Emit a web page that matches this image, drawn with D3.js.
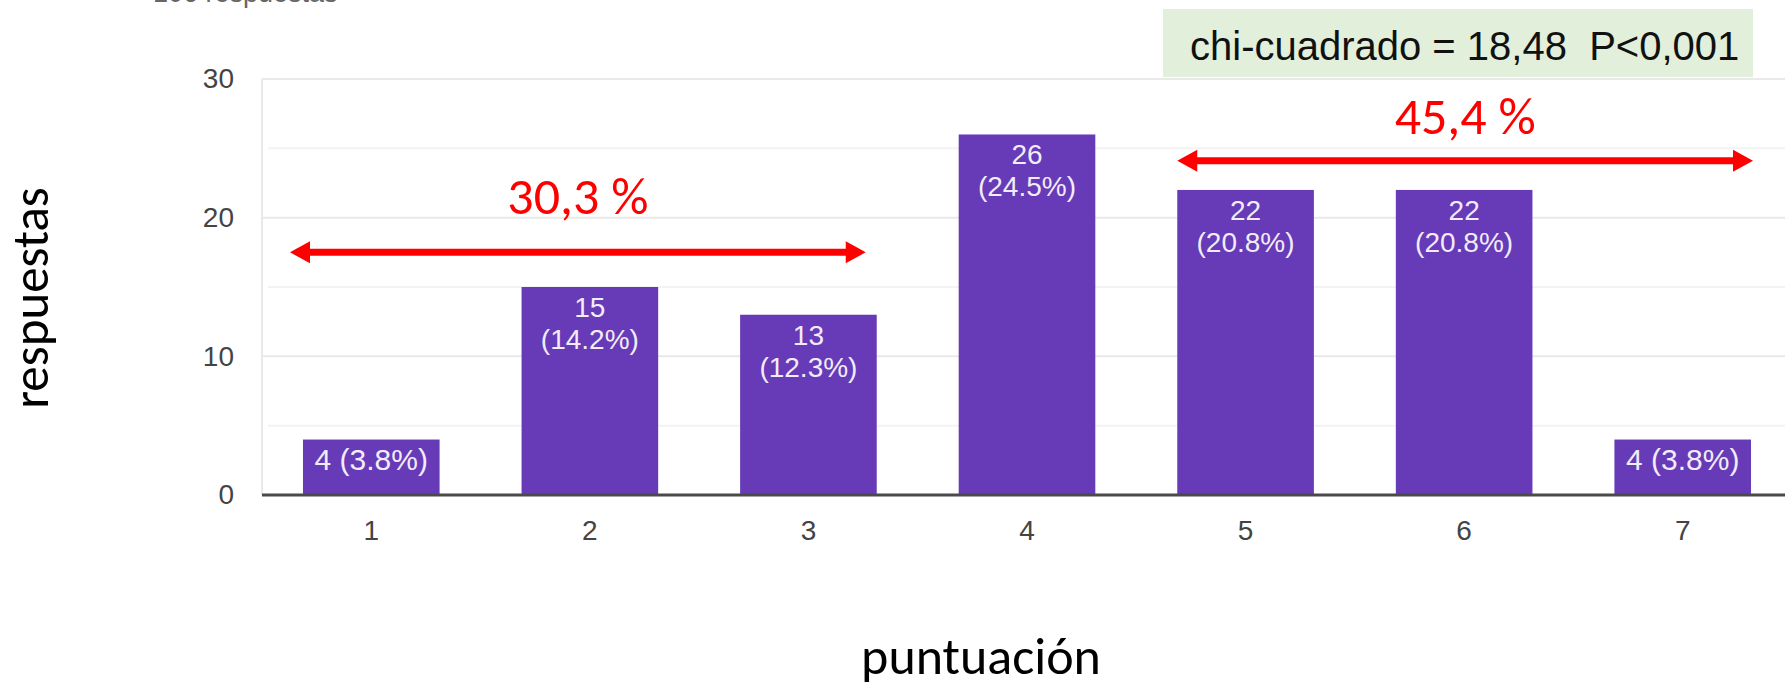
<!DOCTYPE html>
<html>
<head>
<meta charset="utf-8">
<script src="https://cdn.jsdelivr.net/npm/d3@7"></script>
<style>
  html, body { margin: 0; padding: 0; background: #fff; }
  svg { display: block; }
  text { white-space: pre; }
</style>
</head>
<body>
<svg id="chart" width="1785" height="689"></svg>
<script>
// ---- data ----
const categories = ["1", "2", "3", "4", "5", "6", "7"];
const counts = [4, 15, 13, 26, 22, 22, 4];
const percents = ["3.8%", "14.2%", "12.3%", "24.5%", "20.8%", "20.8%", "3.8%"];
const yTicks = [0, 10, 20, 30];
const yMinorTicks = [5, 15, 25];
const yMax = 30;
const groupLabels = ["30,3 %", "45,4 %"];
const groupFrom = ["1", "5"];
const groupTo = ["3", "7"];
const groupLevel = [17.5, 24.1];
const subtitle = "106 respuestas";
const statText = "chi-cuadrado = 18,48  P<0,001";
const xTitle = "puntuación";
const yTitle = "respuestas";

// ---- layout ----
const W = 1785, H = 689;
const plot = { left: 262, right: 1792, top: 79, bottom: 495 };
const svg = d3.select("#chart");

const x = d3.scaleBand(categories, [plot.left, plot.right])
  .paddingInner(0.375).paddingOuter(0.1875);
const y = d3.scaleLinear([0, yMax], [plot.bottom, plot.top]);

const sans = "Arial, 'Liberation Sans', sans-serif";
const calibri = "Calibri, Carlito, Lato, sans-serif";

// cut-off subtitle at the very top (as in the reference screenshot)
svg.append("text").attr("x", 153).attr("y", 2)
  .attr("font-family", sans).attr("font-size", 27).attr("fill", "#666")
  .text(subtitle);

// minor gridlines
svg.append("g").selectAll("line").data(yMinorTicks).join("line")
  .attr("x1", plot.left + 6).attr("x2", plot.right)
  .attr("y1", d => y(d)).attr("y2", d => y(d))
  .attr("stroke", "#f3f3f3").attr("stroke-width", 2);

// major gridlines
svg.append("g").selectAll("line").data(yTicks.filter(d => d > 0)).join("line")
  .attr("x1", plot.left).attr("x2", plot.right)
  .attr("y1", d => y(d)).attr("y2", d => y(d))
  .attr("stroke", "#e9e9e9").attr("stroke-width", 2);

// left frame line
svg.append("line")
  .attr("x1", plot.left).attr("x2", plot.left)
  .attr("y1", y(yMax)).attr("y2", y(0))
  .attr("stroke", "#e9e9e9").attr("stroke-width", 2);

// y axis labels
const yAxis = svg.append("g")
  .attr("transform", `translate(${plot.left - 28},0)`)
  .call(d3.axisLeft(y).tickValues(yTicks).tickSize(0).tickPadding(0).tickFormat(d3.format("d")));
yAxis.select(".domain").remove();
yAxis.selectAll("text").attr("font-family", sans).attr("font-size", 28).attr("fill", "#444");

// bars
svg.append("g").selectAll("rect").data(categories).join("rect")
  .attr("x", d => x(d))
  .attr("width", x.bandwidth())
  .attr("y", (d, i) => y(counts[i]))
  .attr("height", (d, i) => y(0) - y(counts[i]))
  .attr("fill", "#673ab7");

// bar labels
const labels = svg.append("g").selectAll("text").data(categories).join("text")
  .attr("text-anchor", "middle")
  .attr("font-family", sans).attr("font-size", 28).attr("fill", "#f1ecf8")
  .attr("x", d => x(d) + x.bandwidth() / 2)
  .attr("y", (d, i) => y(counts[i]) + 30);
labels.each(function (d, i) {
  const t = d3.select(this);
  if (counts[i] < 8) {
    t.attr("font-size", 30).text(`${counts[i]} (${percents[i]})`);
  } else {
    t.append("tspan").attr("x", x(d) + x.bandwidth() / 2).text(counts[i]);
    t.append("tspan").attr("x", x(d) + x.bandwidth() / 2).attr("dy", 32).text(`(${percents[i]})`);
  }
});

// zero axis line
svg.append("line")
  .attr("x1", plot.left).attr("x2", plot.right)
  .attr("y1", y(0)).attr("y2", y(0))
  .attr("stroke", "#4a4a4a").attr("stroke-width", 3);

// x axis labels
const xAxis = svg.append("g")
  .attr("transform", `translate(0,${y(0) + 31})`)
  .call(d3.axisBottom(x).tickSize(0).tickPadding(0));
xAxis.select(".domain").remove();
xAxis.selectAll("text").attr("font-family", sans).attr("font-size", 28).attr("fill", "#444")
  .attr("dy", "0.5em");

// stat box
const box = { x0: 1163, x1: 1753, y0: 9, y1: 77 };
svg.append("rect").attr("x", box.x0).attr("y", box.y0)
  .attr("width", box.x1 - box.x0).attr("height", box.y1 - box.y0)
  .attr("fill", "#e2efda");
svg.append("text").attr("x", 1190).attr("y", 60)
  .attr("font-family", sans).attr("font-size", 40).attr("fill", "#111")
  .text(statText);

// range arrows + percentage labels
const arrowPad = [[-13, -11], [0, 2]];
const labelGap = [38, 27];
const red = "#ff0000";
groupLabels.forEach((lab, i) => {
  const xs = x(groupFrom[i]) + arrowPad[i][0];
  const xe = x(groupTo[i]) + x.bandwidth() + arrowPad[i][1];
  const yy = y(groupLevel[i]);
  const hl = 20, hw = 11;
  const g = svg.append("g");
  g.append("line").attr("x1", xs + hl - 2).attr("x2", xe - hl + 2)
    .attr("y1", yy).attr("y2", yy)
    .attr("stroke", red).attr("stroke-width", 7);
  g.append("path").attr("d", `M${xs},${yy} L${xs + hl},${yy - hw} L${xs + hl},${yy + hw} Z`).attr("fill", red);
  g.append("path").attr("d", `M${xe},${yy} L${xe - hl},${yy - hw} L${xe - hl},${yy + hw} Z`).attr("fill", red);
  g.append("text").attr("x", (xs + xe) / 2).attr("y", yy - labelGap[i])
    .attr("text-anchor", "middle")
    .attr("font-family", calibri).attr("font-size", 52).attr("fill", red)
    .text(lab);
});

// axis titles
svg.append("text")
  .attr("transform", `translate(48,${(plot.top + plot.bottom) / 2 + 11}) rotate(-90)`)
  .attr("text-anchor", "middle")
  .attr("font-family", calibri).attr("font-size", 51).attr("fill", "#000")
  .text(yTitle);
svg.append("text")
  .attr("x", (plot.left + plot.right) / 2 - 46).attr("y", 674)
  .attr("text-anchor", "middle")
  .attr("font-family", calibri).attr("font-size", 52).attr("fill", "#000")
  .text(xTitle);
</script>
</body>
</html>
